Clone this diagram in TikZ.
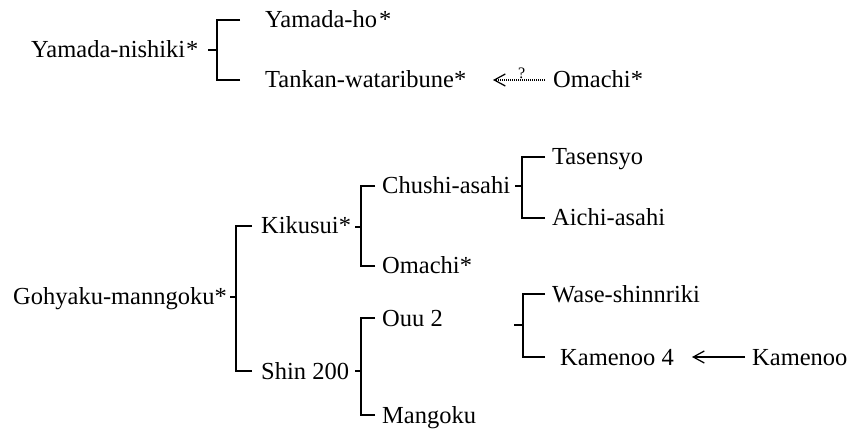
\documentclass[tikz,border=0pt]{standalone}
\usepackage{fontspec}
\setmainfont{Liberation Serif}
\usetikzlibrary{arrows.meta}
\begin{document}
\begin{tikzpicture}[x=1pt,y=-1pt,
  lbl/.style={anchor=west,inner sep=0pt,text height=16pt,text depth=0pt,
    font=\fontsize{24.5}{29}\selectfont},
  br/.style={line width=1.25pt},
  arr/.style={line width=1.25pt,-{Straight Barb[length=11pt,width=12pt,line width=1.25pt]}},
  darr/.style={line width=1.1pt,dash pattern=on 1pt off 1pt,
    -{Straight Barb[length=11pt,width=12pt,line width=1.25pt]}},
  qlbl/.style={inner sep=0pt,font=\fontsize{16}{18}\selectfont}]
\useasboundingbox (0,0) rectangle (859,430);
% ---- top group ----
\node[lbl] (YN) at (31,50) {Yamada-nishiki\kern1pt*};
\node[lbl] (YH) at (265,20) {Yamada-ho\kern2pt*};
\node[lbl] (TW) at (265,80) {Tankan-wataribune*};
\node[lbl] (OM1) at (553,80) {Omachi*};
\coordinate (j1) at (217,50);
\draw[br] (j1) ++(-9,0) -- (j1);
\draw[br] ([xshift=-25pt]YH.west) -| (j1);
\draw[br] ([xshift=-25pt]TW.west) -| (j1);
\draw[darr] ([xshift=-8pt]OM1.west) -- ([xshift=-60pt]OM1.west)
  node[qlbl,pos=0.45,anchor=south,yshift=0.5pt] (q) {?};
% ---- bottom group ----
\node[lbl] (GM) at (13,297) {Gohyaku-manngoku*};
\node[lbl] (KK) at (261,226) {Kikusui*};
\node[lbl] (SH) at (261,371) {Shin 200};
\node[lbl] (CA) at (382,186) {Chushi-asahi};
\node[lbl] (OM2) at (382,266) {Omachi*};
\node[lbl] (OU) at (382,318) {Ouu 2};
\node[lbl] (MG) at (382,415) {Mangoku};
\node[lbl] (TS) at (552,157) {Tasensyo};
\node[lbl] (AA) at (552,218) {Aichi-asahi};
\node[lbl] (WS) at (552,294) {Wase-shinnriki};
\node[lbl] (K4) at (560,357) {Kamenoo 4};
\node[lbl] (KM) at (752,357) {Kamenoo};
% brackets
\coordinate (j2) at (236,297);
\draw[br] (j2) ++(-6,0) -- (j2);
\draw[br] ([xshift=-9pt]KK.west) -| (j2);
\draw[br] ([xshift=-9pt]SH.west) -| (j2);
\coordinate (j3) at (361,227);
\draw[br] (j3) ++(-6,0) -- (j3);
\draw[br] ([xshift=-7pt]CA.west) -| (j3);
\draw[br] ([xshift=-7pt]OM2.west) -| (j3);
\coordinate (j4) at (361,371);
\draw[br] (j4) ++(-6,0) -- (j4);
\draw[br] ([xshift=-7pt]OU.west) -| (j4);
\draw[br] ([xshift=-7pt]MG.west) -| (j4);
\coordinate (j5) at (522,186);
\draw[br] (j5) ++(-7,0) -- (j5);
\draw[br] ([xshift=-7pt]TS.west) -| (j5);
\draw[br] ([xshift=-7pt]AA.west) -| (j5);
\coordinate (j6) at (523,325);
\draw[br] (j6) ++(-9,0) -- (j6);
\draw[br] ([xshift=-7pt]WS.west) -| (j6);
\draw[br] ([xshift=-15pt]K4.west) -| (j6);
\draw[arr] ([xshift=-7pt]KM.west) -- ([xshift=-60pt]KM.west);
\end{tikzpicture}
\end{document}
